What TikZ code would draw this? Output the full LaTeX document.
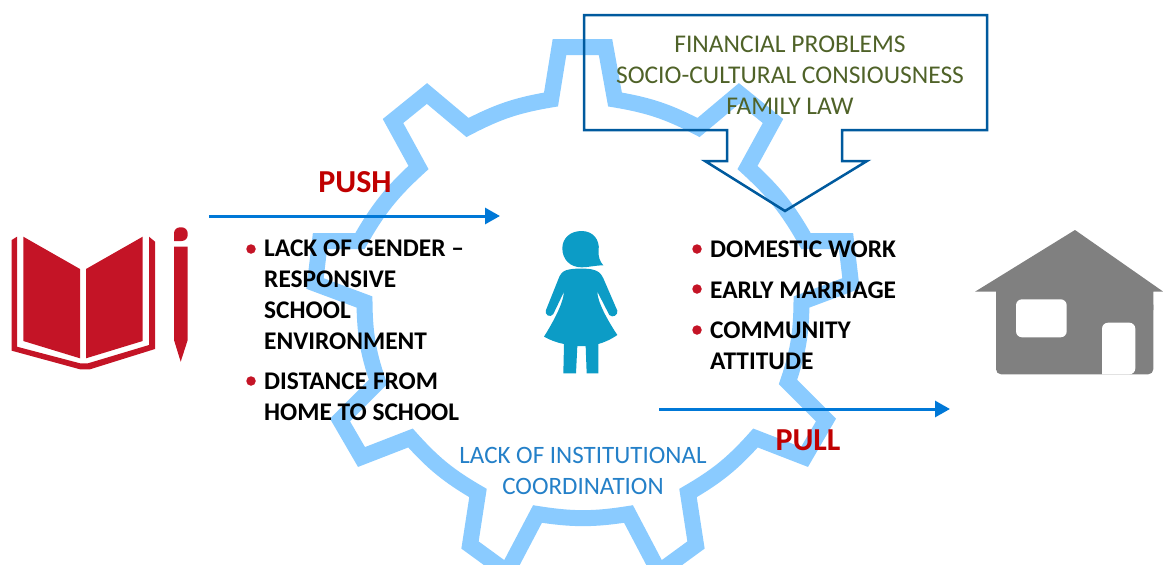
\documentclass[tikz,border=0pt]{standalone}
\usepackage{fontspec}
\setmainfont{Carlito}
\usetikzlibrary{arrows.meta}
\definecolor{gearblue}{HTML}{8ACBFF}
\definecolor{arrowblue}{HTML}{0078D7}
\definecolor{boxblue}{HTML}{005A9E}
\definecolor{boxtext}{HTML}{4F6228}
\definecolor{gearText}{HTML}{2480C8}
\definecolor{pushred}{HTML}{C00000}
\definecolor{bookred}{HTML}{C41426}
\definecolor{girlblue}{HTML}{0C9CC6}
\definecolor{housegrey}{HTML}{808080}
\tikzset{
  flow/.style={draw=arrowblue, line width=3pt, -{Triangle[length=15pt,width=16pt]}},
  force/.style={text=pushred, font=\fontsize{32}{32}\selectfont\bfseries, inner sep=0pt},
  itemtext/.style={anchor=north west, align=left, inner sep=0pt, text=black, font=\fontsize{25.4}{31}\selectfont\bfseries},
  dot/.style={circle, fill=bookred, inner sep=0pt, minimum size=9.5pt},
  boxlabel/.style={align=center, inner sep=0pt, text=boxtext, font=\fontsize{25.5}{31}\selectfont},
  gearlabel/.style={align=center, inner sep=0pt, text=gearText, font=\fontsize{25}{31}\selectfont},
  rim/.style={bend left=9}
}
\begin{document}
\begin{tikzpicture}[x=1pt,y=-1pt]
\useasboundingbox (0,0) rectangle (1163,565);
\draw [draw=gearblue, line width=16pt, miter limit=10]
  (551,99.5) -- (559.5,47) -- (605.5,47) -- (615,99.5) to [rim]
  (698.5,127.5) -- (739,93.5) -- (773,121) -- (747.5,167.5) to [rim]
  (806,241) -- (846,241) -- (851,283.5) -- (801.5,302) to [rim]
  (788,382) -- (826,420) -- (804.5,457) -- (755.5,438) to [rim]
  (688,493) -- (696,545) -- (659,572) -- (628.5,514) to [rim]
  (537.5,514) -- (507,572) -- (470,545) -- (478,493) to [rim]
  (410.5,438) -- (361.5,457) -- (340,420) -- (378,382) to [rim]
  (364.5,302) -- (315,283.5) -- (320,241) -- (360,241) to [rim]
  (418.5,167.5) -- (393,121) -- (427,93.5) -- (467.5,127.5) to [rim]
  (551,99.5) -- cycle;
\fill [bookred] (11.7,240) -- (17,236.7) -- (17,346.7) -- (80,363.3) -- (88,363.3) -- (149,345) -- (149,236.7) -- (155,241.7) -- (155,349) -- (90,369.3) -- (80,369.3) -- (11.7,350.7) -- cycle;
\fill [bookred] (23.3,236.7) -- (80,269) -- (80,358.3) -- (23.3,341) -- cycle;
\fill [bookred] (86,269) -- (142.7,236.7) -- (142.7,341) -- (86,358.3) -- cycle;
\fill [bookred, rounded corners=6pt] (174,241) -- (174,227.3) -- (187.7,227.3) -- (187.7,241) [sharp corners] -- cycle;
\fill [bookred] (174,246.7) -- (187.7,246.7) -- (187.7,340) -- (180.7,361.7) -- (174,340) -- cycle;
\begin{scope}[shift={(520,220)},scale=1/3]
\fill [girlblue] (250,136) .. controls (225,136) and (205,142) .. (185,142) .. controls (150,142) and (127,118) .. (127,85) .. controls (127,55) and (150,33) .. (185,33) .. controls (218,33) and (240,58) .. (236,92) .. controls (234,110) and (240,125) .. (250,136) -- cycle;
\fill [girlblue] (150,148) .. controls (165,145) and (200,145) .. (215,148) .. controls (235,152) and (243,160) .. (250,175) -- (292,272) .. controls (295,285) and (278,295) .. (268,285) -- (232,215) .. controls (232,245) and (262,300) .. (292,345) .. controls (270,360) and (250,368) .. (235,372) -- (235,460) -- (200,460) -- (197,378) -- (172,378) -- (168,460) -- (130,460) -- (132,372) .. controls (110,368) and (90,360) .. (72,350) .. controls (100,305) and (130,250) .. (132,215) -- (100,282) .. controls (92,295) and (72,285) .. (78,270) -- (118,170) .. controls (125,155) and (135,150) .. (150,148) -- cycle;
\end{scope}
\fill [housegrey, rounded corners=5pt] (996,300) -- (996,374.3) -- (1153.3,374.3) -- (1153.3,300) -- cycle;
\fill [housegrey] (975,291.7) -- (1075,230) -- (1163.3,291.7) -- (1153.3,291.7) -- (1153.3,310) -- (996,310) -- (996,291.7) -- cycle;
\fill [white, rounded corners=6pt] (1016,299.3) rectangle (1066.7,337.3);
\fill [white, rounded corners=6pt] (1102,374.3) -- (1102,322.7) -- (1135.3,322.7) -- (1135.3,374.3) [sharp corners] -- cycle;
\draw [draw=boxblue, line width=2.5pt] (584,15) -- (987,15) -- (987,130) -- (842,130) -- (842,161) -- (867,161) -- (785,211) -- (705,161) -- (727,161) -- (727,130) -- (584,130) -- cycle;
\node [boxlabel] (causes) at (790,75) {FINANCIAL PROBLEMS\\SOCIO-CULTURAL CONSIOUSNESS\\FAMILY LAW};
\node [gearlabel] (coordination) at (583,471) {LACK OF INSTITUTIONAL\\COORDINATION};
\coordinate (pushstart) at (209,216);
\coordinate (pushend) at (500,216);
\coordinate (pullstart) at (659,409);
\coordinate (pullend) at (950,409);
\draw [flow] (pushstart) -- (pushend);
\draw [flow] (pullstart) -- (pullend);
\node [force] (push) at (355,182) {PUSH};
\node [force] (pull) at (808,440) {PULL};
\node [dot] (dota) at (251,249) {};
\node [itemtext] (gender) at (264,240) {LACK OF GENDER –\\RESPONSIVE\\SCHOOL\\ENVIRONMENT};
\node [dot] (dotb) at (251,381) {};
\node [itemtext] (distance) at (264,373) {DISTANCE FROM\\HOME TO SCHOOL};
\node [dot] (dotc) at (697,249) {};
\node [itemtext] (domestic) at (710,241) {DOMESTIC WORK};
\node [dot] (dotd) at (697,289) {};
\node [itemtext] (marriage) at (710,282) {EARLY MARRIAGE};
\node [dot] (dote) at (697,330) {};
\node [itemtext] (attitude) at (710,322) {COMMUNITY\\ATTITUDE};
\end{tikzpicture}
\end{document}
